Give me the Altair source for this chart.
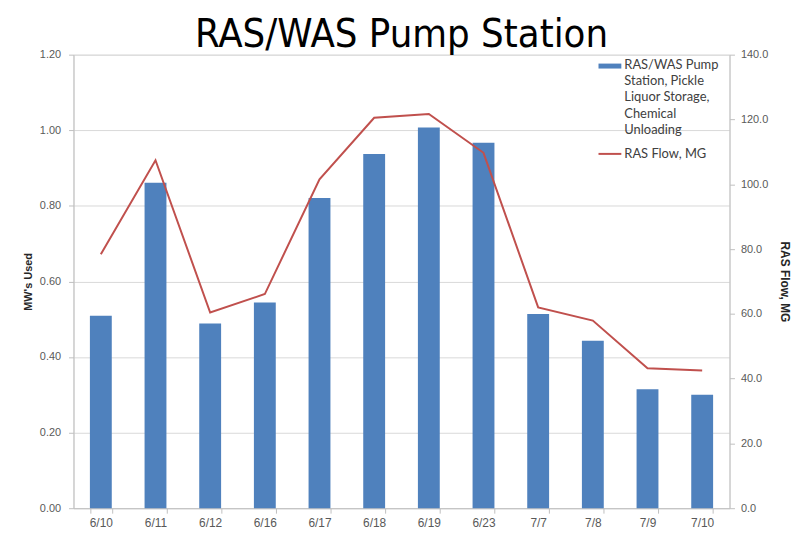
import altair as alt
import pandas as pd

dates = ["6/10", "6/11", "6/12", "6/16", "6/17", "6/18", "6/19", "6/23", "7/7", "7/8", "7/9", "7/10"]
mw_used = [0.509, 0.861, 0.489, 0.544, 0.821, 0.937, 1.007, 0.967, 0.514, 0.443, 0.315, 0.300]
ras_flow = [78.4, 107.4, 60.4, 66.1, 101.5, 120.5, 121.7, 109.7, 62.0, 57.9, 43.2, 42.5]

bar_label = ["RAS/WAS Pump", "Station, Pickle", "Liquor Storage,", "Chemical", "Unloading"]
line_label = "RAS Flow, MG"
left_ticks = [0, 0.2, 0.4, 0.6, 0.8, 1.0, 1.2]
right_ticks = [0, 20, 40, 60, 80, 100, 120, 140]

df = pd.DataFrame({"date": dates, "mw": mw_used, "flow": ras_flow})

BLUE = "#4f81bd"
RED = "#c0504d"
LABEL_FONT = "Lato"
TITLE_FONT = "Liberation Sans Narrow, DejaVu Sans Condensed, Roboto Condensed, Noto Sans"

x_enc = alt.X(
    "date:N",
    sort=dates,
    scale=alt.Scale(paddingInner=0.6, paddingOuter=0.3),
    axis=alt.Axis(
        title=None, labelAngle=0, tickBand="extent", labelFontSize=12,
        labelColor="#595959", tickColor="#bfbfbf", domainColor="#bfbfbf",
        tickSize=5, labelPadding=4, grid=False,
    ),
)

bars = alt.Chart(df).mark_bar(color=BLUE).encode(
    x=x_enc,
    y=alt.Y(
        "mw:Q",
        scale=alt.Scale(domain=[0, 1.2], nice=False),
        axis=alt.Axis(
            title="MW's Used", values=left_ticks, format=".2f", grid=True,
            gridColor="#d9d9d9", domainColor="#bfbfbf", tickColor="#bfbfbf",
            tickSize=5, labelPadding=8, labelFontSize=11, labelColor="#595959",
            titleFontSize=11, titleFontWeight="bold", titleColor="#262626",
            titlePadding=6,
        ),
    ),
)

line = alt.Chart(df).mark_line(color=RED, strokeWidth=2).encode(
    x=x_enc,
    y=alt.Y(
        "flow:Q",
        scale=alt.Scale(domain=[0, 140], nice=False),
        axis=alt.Axis(
            orient="right", title="RAS Flow, MG", values=right_ticks, format=".1f",
            grid=False, domainColor="#bfbfbf", tickColor="#bfbfbf", tickSize=5,
            labelPadding=6, labelFontSize=11, labelColor="#595959",
            titleFontSize=12, titleFontWeight="bold", titleColor="#262626",
            titlePadding=10,
        ),
    ),
)

one = pd.DataFrame({"k": [0]})
leg_rect = alt.Chart(one).mark_rect(color=BLUE).encode(
    x=alt.value(529), x2=alt.value(552), y=alt.value(9), y2=alt.value(14)
)
leg_text1 = alt.Chart(one).mark_text(
    align="left", baseline="top", fontSize=13, lineHeight=16.5,
    color="#404040", font=LABEL_FONT,
).encode(x=alt.value(555), y=alt.value(4), text=alt.value(bar_label))
leg_rule = alt.Chart(one).mark_rule(color=RED, strokeWidth=2).encode(
    x=alt.value(529), x2=alt.value(552), y=alt.value(100)
)
leg_text2 = alt.Chart(one).mark_text(
    align="left", baseline="middle", fontSize=13, color="#404040", font=LABEL_FONT,
).encode(x=alt.value(555), y=alt.value(100), text=alt.value(line_label))

chart = (
    alt.layer(bars, line, leg_rect, leg_text1, leg_rule, leg_text2)
    .resolve_scale(y="independent")
    .properties(
        width=661,
        height=457,
        padding={"left": 14, "top": 5, "right": 5, "bottom": 5},
        title=alt.TitleParams(
            "RAS/WAS Pump Station", fontSize=40, font=TITLE_FONT,
            fontWeight="normal", color="#000000", anchor="middle", offset=-6,
        ),
    )
    .configure_view(stroke=None)
    .configure_axis(labelFont=LABEL_FONT, titleFont=LABEL_FONT)
    .configure(background="white")
)

chart.save("out.html", embed_options={"renderer": "svg", "actions": False})
